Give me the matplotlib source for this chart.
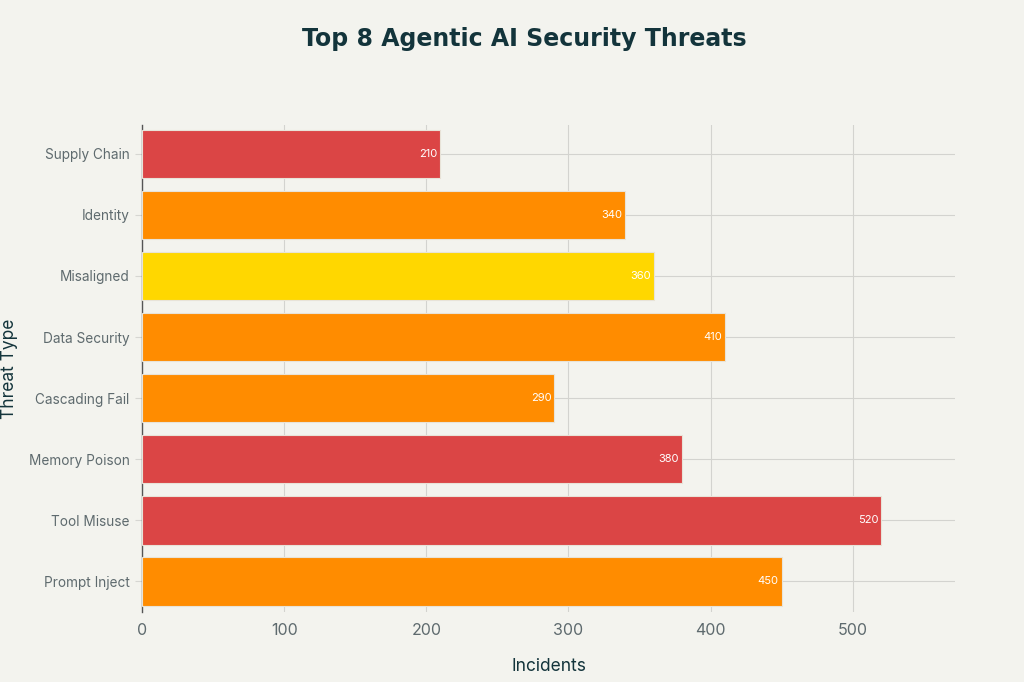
import matplotlib.pyplot as plt

threats = ["Prompt Inject", "Tool Misuse", "Memory Poison", "Cascading Fail",
           "Data Security", "Misaligned", "Identity", "Supply Chain"]
incidents = [450, 520, 380, 290, 410, 360, 340, 210]
bar_colors = ["#FF8C00", "#DB4545", "#DB4545", "#FF8C00",
              "#FF8C00", "#FFD700", "#FF8C00", "#DB4545"]

bg = "#F3F3EE"
plt.rcParams["font.family"] = ["Inter", "DejaVu Sans"]

fig = plt.figure(figsize=(10.24, 6.82), dpi=100, facecolor=bg)
ax = fig.add_axes([0.1387, 0.1026, 0.7939, 0.7141], facecolor=bg)

ypos = range(len(threats))
ax.barh(ypos, incidents, height=0.79, color=bar_colors,
        edgecolor="#E8E3D8", linewidth=0.8, zorder=3)

for y, v in zip(ypos, incidents):
    ax.text(v - 2, y, str(v), ha="right", va="center",
            color="white", fontsize=8, zorder=4)

ax.set_xlim(0, 572)
ax.set_ylim(-0.5, 7.47)
ax.set_yticks(list(ypos))
ax.set_yticklabels(threats)
ax.set_xticks([0, 100, 200, 300, 400, 500])

ax.grid(True, color="#D3D3CF", linewidth=0.8, zorder=0)
for s in ["top", "right", "bottom"]:
    ax.spines[s].set_visible(False)
ax.spines["left"].set_color("#555555")
ax.spines["left"].set_linewidth(1.0)

ax.tick_params(axis="y", length=5, color="#D6D6D2", labelsize=9.8,
               labelcolor="#5E6A6E", pad=4)
ax.tick_params(axis="x", length=0, labelsize=11.5, labelcolor="#5E6A6E", pad=8)

ax.set_xlabel("Incidents", fontsize=12.5, color="#13343B", labelpad=14)
ax.set_ylabel("Threat Type", fontsize=12.5, color="#13343B")
ax.yaxis.set_label_coords(-0.1525, 0.5)

fig.text(0.512, 0.943, "Top 8 Agentic AI Security Threats", ha="center",
         va="center", fontsize=17, fontweight="bold", color="#13343B",
         family="DejaVu Sans")

fig.savefig("out.png", dpi=100, facecolor=bg)
